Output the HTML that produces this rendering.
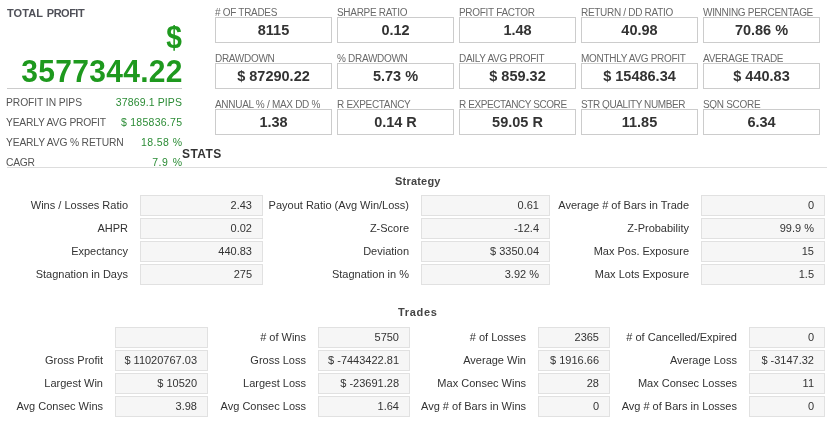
<!DOCTYPE html>
<html><head><meta charset="utf-8">
<style>
*{margin:0;padding:0;box-sizing:border-box}
html,body{width:838px;height:437px;background:#fff;overflow:hidden}
body{position:relative;font-family:"Liberation Sans",Arial,sans-serif;color:#333}
.a{position:absolute;white-space:nowrap}
.tp{left:7px;top:7px;font-size:11px;font-weight:bold;color:#4f5058}
.dol{right:656.5px;top:20px;font-size:32px;transform:scaleX(0.88);transform-origin:100% 50%;font-weight:bold;color:#1e991e;line-height:34px}
.big{right:655.5px;top:55px;letter-spacing:0.3px;margin-right:-0.3px;font-size:30px;transform:scaleY(1.04);transform-origin:50% 80%;font-weight:bold;color:#1e991e;line-height:34px}
.hl{position:absolute;height:1px;background:#ccc}
.ll{left:6px;font-size:10.3px;color:#555;line-height:14px}
.lv{right:656px;font-size:10.5px;color:#2c8c36;line-height:14px}
.gl{font-size:10px;color:#6a6a6a;line-height:11px;letter-spacing:-0.3px}
.gb{position:absolute;width:117px;height:26px;border:1px solid #ccc;background:#fff;font-size:14.5px;font-weight:bold;color:#333;text-align:center;line-height:24px}
.sec{font-size:11px;font-weight:bold;color:#444;line-height:13px}
.tl{font-size:11px;color:#333;line-height:20px;text-align:right}
.tb{position:absolute;height:21px;border:1px solid #e1e1e1;background:#f6f6f6;font-size:11px;color:#333;text-align:right;line-height:19px;padding-right:10px}
</style></head><body>
<div class="a tp"><span style="letter-spacing:0.1px">TOTAL</span> <span style="letter-spacing:-0.5px;margin-left:0.6px">PROFIT</span></div>
<div class="a dol">$</div>
<div class="a big">3577344.22</div>
<div class="hl" style="left:7px;top:88px;width:175px"></div>
<div class="a ll" style="top:96px;letter-spacing:-0.08px">PROFIT IN PIPS</div><div class="a lv" style="top:95px;letter-spacing:0.12px;margin-right:-0.12px">37869.1 PIPS</div>
<div class="a ll" style="top:116px;letter-spacing:-0.22px">YEARLY AVG PROFIT</div><div class="a lv" style="top:115px;letter-spacing:0.27px;margin-right:-0.27px">$ 185836.75</div>
<div class="a ll" style="top:136px;letter-spacing:-0.17px">YEARLY AVG % RETURN</div><div class="a lv" style="top:135px;letter-spacing:0.4px;margin-right:-0.4px">18.58 %</div>
<div class="a ll" style="top:156px;letter-spacing:-0.3px">CAGR</div><div class="a lv" style="top:155px;letter-spacing:0.4px;margin-right:-0.4px;word-spacing:1.2px">7.9 %</div>

<!-- top grid -->
<div class="a gl" style="left:215px;top:6.5px"># OF TRADES</div><div class="gb" style="left:215px;top:17px">8115</div>
<div class="a gl" style="left:337px;top:6.5px">SHARPE RATIO</div><div class="gb" style="left:337px;top:17px">0.12</div>
<div class="a gl" style="left:459px;top:6.5px">PROFIT FACTOR</div><div class="gb" style="left:459px;top:17px">1.48</div>
<div class="a gl" style="left:581px;top:6.5px">RETURN / DD RATIO</div><div class="gb" style="left:581px;top:17px">40.98</div>
<div class="a gl" style="left:703px;top:6.5px">WINNING PERCENTAGE</div><div class="gb" style="left:703px;top:17px">70.86 %</div>

<div class="a gl" style="left:215px;top:52.5px">DRAWDOWN</div><div class="gb" style="left:215px;top:63px">$ 87290.22</div>
<div class="a gl" style="left:337px;top:52.5px">% DRAWDOWN</div><div class="gb" style="left:337px;top:63px">5.73 %</div>
<div class="a gl" style="left:459px;top:52.5px">DAILY AVG PROFIT</div><div class="gb" style="left:459px;top:63px">$ 859.32</div>
<div class="a gl" style="left:581px;top:52.5px">MONTHLY AVG PROFIT</div><div class="gb" style="left:581px;top:63px">$ 15486.34</div>
<div class="a gl" style="left:703px;top:52.5px">AVERAGE TRADE</div><div class="gb" style="left:703px;top:63px">$ 440.83</div>

<div class="a gl" style="left:215px;top:98.5px">ANNUAL % / MAX DD %</div><div class="gb" style="left:215px;top:109px">1.38</div>
<div class="a gl" style="left:337px;top:98.5px">R EXPECTANCY</div><div class="gb" style="left:337px;top:109px">0.14 R</div>
<div class="a gl" style="left:459px;top:98.5px;letter-spacing:-0.42px">R EXPECTANCY SCORE</div><div class="gb" style="left:459px;top:109px">59.05 R</div>
<div class="a gl" style="left:581px;top:98.5px;letter-spacing:-0.42px">STR QUALITY NUMBER</div><div class="gb" style="left:581px;top:109px">11.85</div>
<div class="a gl" style="left:703px;top:98.5px">SQN SCORE</div><div class="gb" style="left:703px;top:109px">6.34</div>

<div class="a" style="left:182px;top:147px;font-size:12px;font-weight:bold;color:#333;line-height:14px;letter-spacing:0.4px">STATS</div>
<div class="hl" style="left:7px;top:167px;width:820px;background:#ddd"></div>

<!-- Strategy -->
<div class="a sec" style="left:395px;top:175px;letter-spacing:0.2px">Strategy</div>
<div class="a tl" style="right:710px;top:195px">Wins / Losses Ratio</div><div class="tb" style="left:140px;top:195px;width:123px">2.43</div>
<div class="a tl" style="right:429px;top:195px">Payout Ratio (Avg Win/Loss)</div><div class="tb" style="left:421px;top:195px;width:129px">0.61</div>
<div class="a tl" style="right:149px;top:195px">Average # of Bars in Trade</div><div class="tb" style="left:701px;top:195px;width:124px">0</div>

<div class="a tl" style="right:710px;top:218px">AHPR</div><div class="tb" style="left:140px;top:218px;width:123px">0.02</div>
<div class="a tl" style="right:429px;top:218px">Z-Score</div><div class="tb" style="left:421px;top:218px;width:129px">-12.4</div>
<div class="a tl" style="right:149px;top:218px">Z-Probability</div><div class="tb" style="left:701px;top:218px;width:124px">99.9 %</div>

<div class="a tl" style="right:710px;top:241px">Expectancy</div><div class="tb" style="left:140px;top:241px;width:123px">440.83</div>
<div class="a tl" style="right:429px;top:241px">Deviation</div><div class="tb" style="left:421px;top:241px;width:129px">$ 3350.04</div>
<div class="a tl" style="right:149px;top:241px">Max Pos. Exposure</div><div class="tb" style="left:701px;top:241px;width:124px">15</div>

<div class="a tl" style="right:710px;top:264px">Stagnation in Days</div><div class="tb" style="left:140px;top:264px;width:123px">275</div>
<div class="a tl" style="right:429px;top:264px">Stagnation in %</div><div class="tb" style="left:421px;top:264px;width:129px">3.92 %</div>
<div class="a tl" style="right:149px;top:264px">Max Lots Exposure</div><div class="tb" style="left:701px;top:264px;width:124px">1.5</div>

<!-- Trades -->
<div class="a sec" style="left:398px;top:306px;letter-spacing:0.7px">Trades</div>
<div class="tb" style="left:115px;top:327px;width:93px"></div>
<div class="a tl" style="right:532px;top:327px"># of Wins</div><div class="tb" style="left:318px;top:327px;width:92px">5750</div>
<div class="a tl" style="right:312px;top:327px"># of Losses</div><div class="tb" style="left:538px;top:327px;width:72px">2365</div>
<div class="a tl" style="right:101px;top:327px"># of Cancelled/Expired</div><div class="tb" style="left:749px;top:327px;width:76px">0</div>

<div class="a tl" style="right:735px;top:350px">Gross Profit</div><div class="tb" style="left:115px;top:350px;width:93px">$ 11020767.03</div>
<div class="a tl" style="right:532px;top:350px">Gross Loss</div><div class="tb" style="left:318px;top:350px;width:92px">$ -7443422.81</div>
<div class="a tl" style="right:312px;top:350px">Average Win</div><div class="tb" style="left:538px;top:350px;width:72px">$ 1916.66</div>
<div class="a tl" style="right:101px;top:350px">Average Loss</div><div class="tb" style="left:749px;top:350px;width:76px">$ -3147.32</div>

<div class="a tl" style="right:735px;top:373px">Largest Win</div><div class="tb" style="left:115px;top:373px;width:93px">$ 10520</div>
<div class="a tl" style="right:532px;top:373px">Largest Loss</div><div class="tb" style="left:318px;top:373px;width:92px">$ -23691.28</div>
<div class="a tl" style="right:312px;top:373px">Max Consec Wins</div><div class="tb" style="left:538px;top:373px;width:72px">28</div>
<div class="a tl" style="right:101px;top:373px">Max Consec Losses</div><div class="tb" style="left:749px;top:373px;width:76px">11</div>

<div class="a tl" style="right:735px;top:396px">Avg Consec Wins</div><div class="tb" style="left:115px;top:396px;width:93px">3.98</div>
<div class="a tl" style="right:532px;top:396px">Avg Consec Loss</div><div class="tb" style="left:318px;top:396px;width:92px">1.64</div>
<div class="a tl" style="right:312px;top:396px">Avg # of Bars in Wins</div><div class="tb" style="left:538px;top:396px;width:72px">0</div>
<div class="a tl" style="right:101px;top:396px">Avg # of Bars in Losses</div><div class="tb" style="left:749px;top:396px;width:76px">0</div>
</body></html>
